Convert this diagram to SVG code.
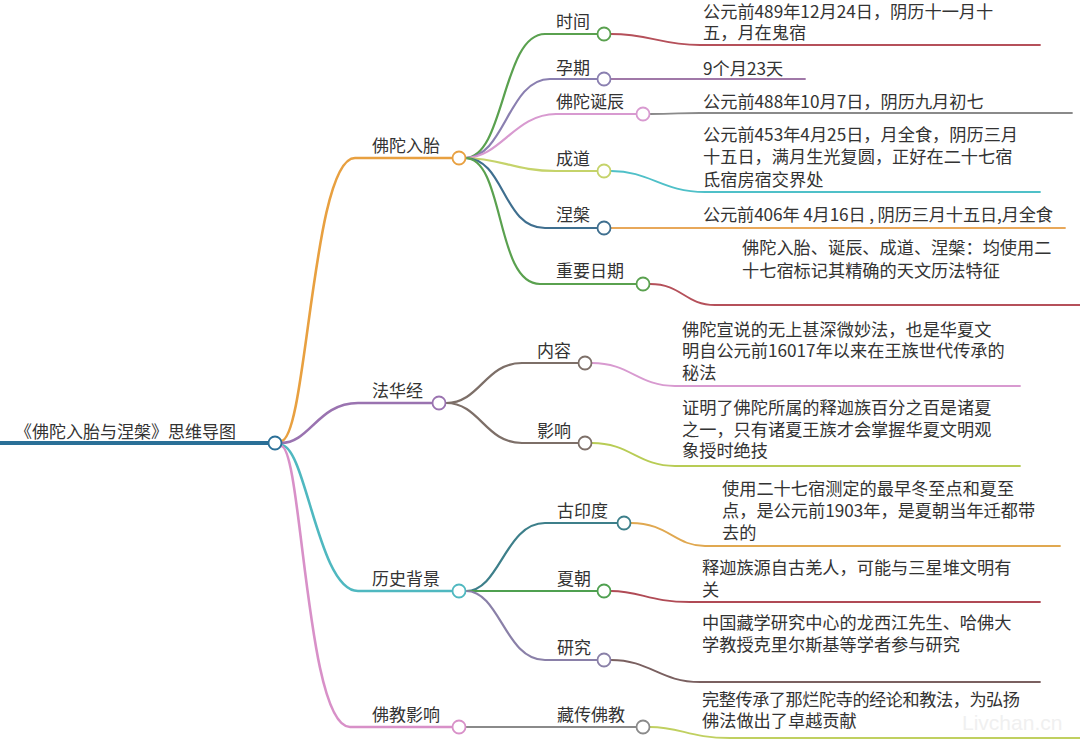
<svg xmlns="http://www.w3.org/2000/svg" width="1080" height="739" viewBox="0 0 1080 739">
<style>
text{font-family:"Noto Sans CJK SC","Noto Sans",sans-serif;fill:#333;}
.root{font-size:17px;}
.lbl{font-size:17px;}
.det{font-size:17.2px;}
.c{fill:#fff;stroke-width:1.8;}
path{fill:none;stroke-linecap:round;}
.m{stroke-width:2.6;}
.s{stroke-width:2.2;}
.d{stroke-width:1.8;}
</style>
<rect width="1080" height="739" fill="#fff"/>
<g id="connectors">
<path d="M0,443 L268,443" stroke="#2a6f97" stroke-width="4"/>
<path class="m" d="M281,441 C307,441 312,158 355,158 L452,158" stroke="#e8a040"/>
<path class="m" d="M281,443 C310,443 318,403 358,403 L432,403" stroke="#9a73b0"/>
<path class="m" d="M281,445 C306,445 318,591 358,591 L452,591" stroke="#4fb8c0"/>
<path class="m" d="M281,446 C302,446 306,727 350,727 L452,727" stroke="#d890c8"/>
<path class="s" d="M465,158 C505,158 502,34 545,34 L597,34" stroke="#5aa14f"/>
<path class="s" d="M465,158 C505,158 508,79 550,79 L597,79" stroke="#8a7fb0"/>
<path class="s" d="M465,158 C500,158 515,114 556,114 L636,114" stroke="#d89ad0"/>
<path class="s" d="M465,158 C500,158 515,171 556,171 L597,171" stroke="#c5d36a"/>
<path class="s" d="M465,158 C505,158 502,228 545,228 L597,228" stroke="#3f6f8f"/>
<path class="s" d="M465,158 C505,158 495,284 540,284 L636,284" stroke="#5aa14f"/>
<path class="d" d="M611,34 C650,34 660,45 700,45 L1040,45" stroke="#b5505a"/>
<path class="d" d="M611,79 L805,79" stroke="#a078a8"/>
<path class="d" d="M650,114 C675,114 680,113 700,113 L1072,113" stroke="#8a8a8a"/>
<path class="d" d="M611,171 C650,171 662,192 705,192 L1040,192" stroke="#4fc0c8"/>
<path class="d" d="M611,228 L1065,228" stroke="#e8a85a"/>
<path class="d" d="M650,284 C682,284 685,305 715,305 L1080,305" stroke="#b5505a"/>
<path class="s" d="M446,403 C480,403 485,363 522,363 L578,363" stroke="#7d6f68"/>
<path class="s" d="M446,403 C480,403 485,443 522,443 L578,443" stroke="#7d6f68"/>
<path class="d" d="M592,363 C630,363 638,386 675,386 L1020,386" stroke="#d89ad0"/>
<path class="d" d="M592,443 C630,443 638,466 675,466 L1020,466" stroke="#b8cc55"/>
<path class="s" d="M466,591 C500,591 505,523 545,523 L617,523" stroke="#3d7f8a"/>
<path class="s" d="M466,591 L597,591" stroke="#4fa050"/>
<path class="s" d="M466,591 C500,591 505,660 545,660 L597,660" stroke="#8a80a8"/>
<path class="d" d="M631,523 C668,523 675,546 705,546 L1060,546" stroke="#e0a850"/>
<path class="d" d="M611,591 C640,591 650,602 690,602 L1040,602" stroke="#b04a55"/>
<path class="d" d="M611,660 C650,660 660,682 700,682 L1040,682" stroke="#7a6060"/>
<path class="s" d="M466,727 L636,727" stroke="#8a8a8a"/>
<path class="d" d="M650,727 C680,727 690,738 730,738 L1080,738" stroke="#c0d060"/>
</g>
<g id="root"><text class="root" x="15" y="438">《佛陀入胎与涅槃》思维导图</text><circle class="c" cx="275" cy="443" r="6.5" stroke="#2a6f97"/></g>
<g id="n-rutai"><text class="lbl" x="372" y="152">佛陀入胎</text><circle class="c" cx="459" cy="158" r="6.5" stroke="#e8a040"/></g>
<g id="n-shijian"><text class="lbl" x="556" y="28">时间</text><circle class="c" cx="604" cy="34" r="6.5" stroke="#5aa14f"/></g>
<g id="n-yunqi"><text class="lbl" x="556" y="74">孕期</text><circle class="c" cx="604" cy="79" r="6.5" stroke="#8a7fb0"/></g>
<g id="n-danchen"><text class="lbl" x="556" y="108">佛陀诞辰</text><circle class="c" cx="643" cy="114" r="6.5" stroke="#d89ad0"/></g>
<g id="n-chengdao"><text class="lbl" x="556" y="165">成道</text><circle class="c" cx="604" cy="171" r="6.5" stroke="#c5d36a"/></g>
<g id="n-niepan"><text class="lbl" x="556" y="221">涅槃</text><circle class="c" cx="604" cy="228" r="6.5" stroke="#3f6f8f"/></g>
<g id="n-riqi"><text class="lbl" x="556" y="277">重要日期</text><circle class="c" cx="643" cy="284" r="6.5" stroke="#5aa14f"/></g>
<g id="d-shijian"><text class="det" x="703" y="18">公元前489年12月24日，阴历十一月十</text><text class="det" x="703" y="39">五，月在鬼宿</text></g>
<g id="d-yunqi"><text class="det" x="703" y="75">9个月23天</text></g>
<g id="d-danchen"><text class="det" x="703" y="108">公元前488年10月7日，阴历九月初七</text></g>
<g id="d-chengdao"><text class="det" x="703" y="141">公元前453年4月25日，月全食，阴历三月</text><text class="det" x="703" y="163">十五日，满月生光复圆，正好在二十七宿</text><text class="det" x="703" y="186">氐宿房宿交界处</text></g>
<g id="d-niepan"><text class="det" x="703" y="221" textLength="350">公元前406年 4月16日 , 阴历三月十五日,月全食</text></g>
<g id="d-riqi"><text class="det" x="742" y="254">佛陀入胎、诞辰、成道、涅槃：均使用二</text><text class="det" x="742" y="277">十七宿标记其精确的天文历法特征</text></g>
<g id="n-fahua"><text class="lbl" x="372" y="397">法华经</text><circle class="c" cx="439" cy="403" r="6.5" stroke="#9a73b0"/></g>
<g id="n-neirong"><text class="lbl" x="537" y="357">内容</text><circle class="c" cx="585" cy="363" r="6.5" stroke="#7d6f68"/></g>
<g id="n-yingxiang"><text class="lbl" x="537" y="437">影响</text><circle class="c" cx="585" cy="443" r="6.5" stroke="#7d6f68"/></g>
<g id="d-neirong"><text class="det" x="682" y="336">佛陀宣说的无上甚深微妙法，也是华夏文</text><text class="det" x="682" y="357">明自公元前16017年以来在王族世代传承的</text><text class="det" x="682" y="379">秘法</text></g>
<g id="d-yingxiang"><text class="det" x="682" y="414">证明了佛陀所属的释迦族百分之百是诸夏</text><text class="det" x="682" y="436">之一，只有诸夏王族才会掌握华夏文明观</text><text class="det" x="682" y="457">象授时绝技</text></g>
<g id="n-lishi"><text class="lbl" x="372" y="585">历史背景</text><circle class="c" cx="459" cy="591" r="6.5" stroke="#4fb8c0"/></g>
<g id="n-guyindu"><text class="lbl" x="557" y="517">古印度</text><circle class="c" cx="624" cy="523" r="6.5" stroke="#3d7f8a"/></g>
<g id="n-xiachao"><text class="lbl" x="557" y="585">夏朝</text><circle class="c" cx="604" cy="591" r="6.5" stroke="#4fa050"/></g>
<g id="n-yanjiu"><text class="lbl" x="557" y="654">研究</text><circle class="c" cx="604" cy="660" r="6.5" stroke="#8a80a8"/></g>
<g id="d-guyindu"><text class="det" x="722" y="495">使用二十七宿测定的最早冬至点和夏至</text><text class="det" x="722" y="517">点，是公元前1903年，是夏朝当年迁都带</text><text class="det" x="722" y="539">去的</text></g>
<g id="d-xiachao"><text class="det" x="702" y="574">释迦族源自古羌人，可能与三星堆文明有</text><text class="det" x="702" y="596">关</text></g>
<g id="d-yanjiu"><text class="det" x="702" y="629">中国藏学研究中心的龙西江先生、哈佛大</text><text class="det" x="702" y="651">学教授克里尔斯基等学者参与研究</text></g>
<g id="n-fojiao"><text class="lbl" x="372" y="721">佛教影响</text><circle class="c" cx="459" cy="727" r="6.5" stroke="#d890c8"/></g>
<g id="n-zangchuan"><text class="lbl" x="557" y="721">藏传佛教</text><circle class="c" cx="643" cy="727" r="6.5" stroke="#8a8a8a"/></g>
<g id="d-zangchuan"><text class="det" x="702" y="706" textLength="318">完整传承了那烂陀寺的经论和教法，为弘扬</text><text class="det" x="702" y="727">佛法做出了卓越贡献</text></g>
<text x="962" y="730" style="font-family:'Liberation Sans',sans-serif;font-size:21px;fill:#f0f0f0">Livchan.cn</text>
</svg>
